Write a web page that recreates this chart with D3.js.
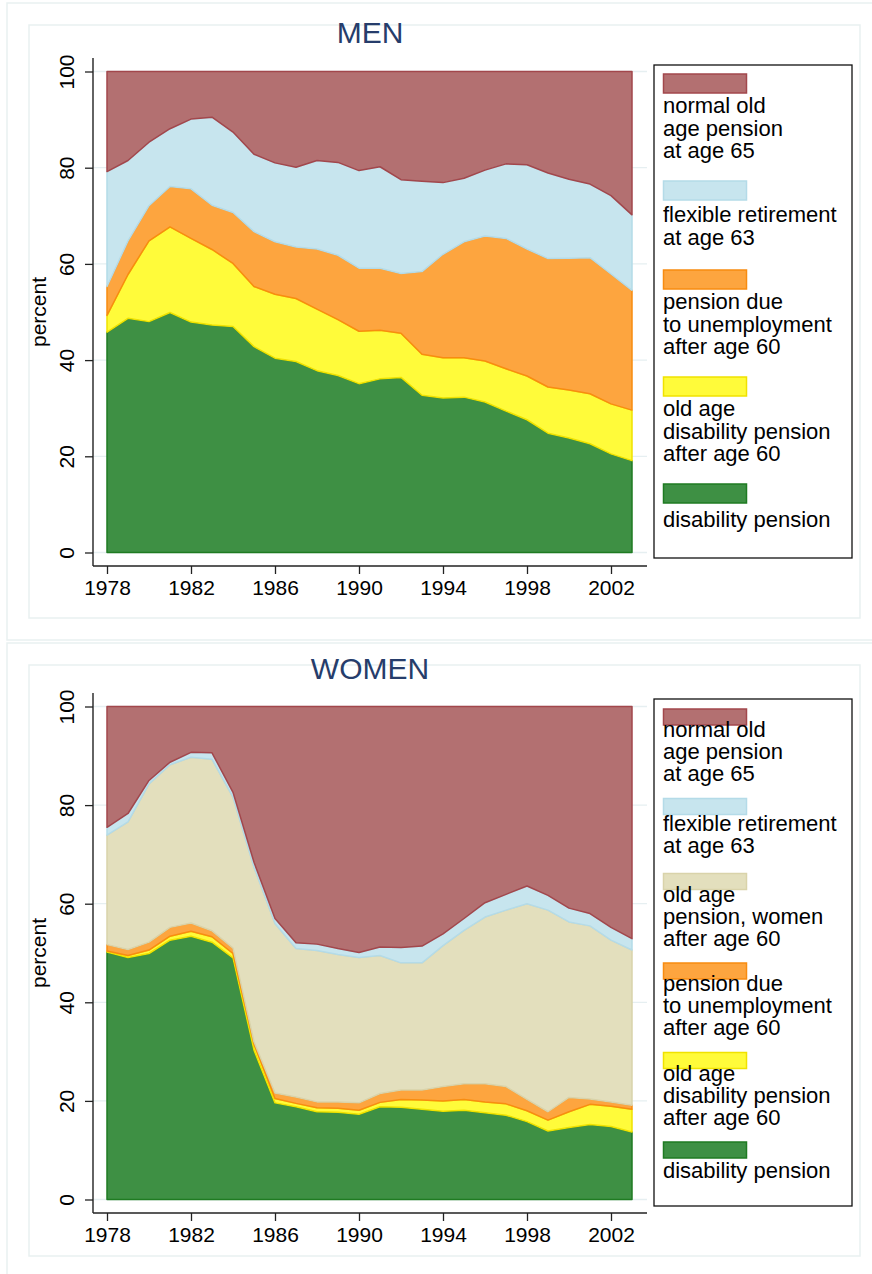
<!DOCTYPE html>
<html>
<head>
<meta charset="utf-8">
<script src="https://cdn.jsdelivr.net/npm/d3@7/dist/d3.min.js"></script>
<style>
    body { margin: 0; background: #fff; }
    svg text { font-family: "Liberation Sans", Arial, Helvetica, sans-serif; fill: #000; }
</style>
</head>
<body>
<div id="chart"></div>
<script>
// ---- DATA (shares in percent, bottom layer first) ----
const years = [1978, 1979, 1980, 1981, 1982, 1983, 1984, 1985, 1986, 1987, 1988, 1989, 1990,
    1991, 1992, 1993, 1994, 1995, 1996, 1997, 1998, 1999, 2000, 2001, 2002, 2003];
const xTicks = [1978, 1982, 1986, 1990, 1994, 1998, 2002];
const yTicks = [0, 20, 40, 60, 80, 100];

// MEN
const menDisability = [45.8, 48.7, 48.0, 49.9, 47.9, 47.3, 47.0, 42.8, 40.4, 39.7, 37.8, 36.8, 35.1,
    36.1, 36.4, 32.7, 32.1, 32.3, 31.3, 29.4, 27.6, 24.8, 23.8, 22.6, 20.5, 19.1];
const menOldAgeDisability = [3.5, 9.1, 16.8, 17.8, 17.4, 15.7, 13.1, 12.5, 13.3, 13.1, 12.8, 11.6, 10.9,
    10.1, 9.2, 8.5, 8.4, 8.2, 8.5, 8.8, 9.1, 9.6, 10.0, 10.4, 10.4, 10.5];
const menUnemployment = [6.0, 7.0, 7.3, 8.4, 10.3, 9.2, 10.6, 11.4, 10.9, 10.7, 12.5, 13.4, 13.1,
    12.9, 12.4, 17.2, 21.5, 24.1, 26.0, 27.1, 26.4, 26.7, 27.4, 28.3, 27.0, 24.9];
const menFlexible = [23.9, 16.7, 13.2, 12.0, 14.5, 18.3, 16.7, 16.1, 16.4, 16.6, 18.4, 19.3, 20.3,
    21.1, 19.5, 18.8, 14.9, 13.2, 13.7, 15.5, 17.5, 17.8, 16.4, 15.3, 16.3, 15.7];
const menNormal = [20.8, 18.5, 14.7, 11.9, 9.9, 9.5, 12.6, 17.2, 19.0, 19.9, 18.5, 18.9, 20.6,
    19.8, 22.5, 22.8, 23.1, 22.2, 20.5, 19.2, 19.4, 21.1, 22.4, 23.4, 25.8, 29.8];

// WOMEN
const womenDisability = [50.2, 49.1, 49.9, 52.6, 53.4, 52.2, 49.0, 30.3, 19.6, 18.8, 17.8, 17.7, 17.3,
    18.8, 18.7, 18.3, 17.9, 18.1, 17.6, 17.1, 15.8, 13.9, 14.6, 15.2, 14.8, 13.7];
const womenOldAgeDisability = [0.2, 0.4, 0.7, 0.8, 1.0, 1.1, 0.9, 1.2, 0.9, 0.7, 0.8, 0.8, 0.8,
    0.9, 1.6, 1.9, 2.1, 2.2, 2.2, 2.3, 2.2, 2.2, 3.2, 4.1, 4.1, 4.6];
const womenUnemployment = [1.3, 1.2, 1.6, 1.8, 1.7, 1.2, 1.1, 0.5, 1.1, 1.3, 1.2, 1.3, 1.5,
    1.8, 1.9, 2.0, 2.9, 3.2, 3.7, 3.5, 2.3, 1.7, 2.9, 1.1, 0.9, 0.8];
const womenOldAgeWomen = [22.2, 25.9, 32.1, 33.0, 33.6, 34.8, 30.6, 35.4, 34.4, 30.1, 30.7, 29.9, 29.5,
    28.0, 25.8, 25.8, 28.6, 31.1, 33.8, 35.8, 39.7, 40.9, 35.6, 35.1, 32.8, 31.5];
const womenFlexible = [1.6, 1.7, 0.7, 0.5, 1.0, 1.3, 1.0, 1.0, 1.0, 1.2, 1.3, 1.2, 1.0,
    1.7, 3.1, 3.4, 2.4, 2.4, 2.9, 3.2, 3.6, 3.0, 2.8, 2.5, 2.6, 2.3];
const womenNormal = [24.5, 21.7, 15.0, 11.3, 9.3, 9.4, 17.4, 31.6, 43.0, 47.9, 48.2, 49.1, 49.9,
    48.8, 48.9, 48.6, 46.1, 43.0, 39.8, 38.1, 36.4, 38.3, 40.9, 42.0, 44.8, 47.1];

// legend labels
const labelNormal = ["normal old", "age pension", "at age 65"];
const labelFlexible = ["flexible retirement", "at age 63"];
const labelOldAgeWomen = ["old age", "pension, women", "after age 60"];
const labelUnemployment = ["pension due", "to unemployment", "after age 60"];
const labelOldAgeDisability = ["old age", "disability pension", "after age 60"];
const labelDisability = ["disability pension"];

//^ COLOURS //
const style = {
    disability: { fill: "#3e9044", stroke: "#1f7b22" },
    oldAgeDisability: { fill: "#fffb3a", stroke: "#f0e200" },
    unemployment: { fill: "#fda53f", stroke: "#f88c10" },
    oldAgeWomen: { fill: "#e3dfbd", stroke: "#d9d3aa" },
    flexible: { fill: "#c7e5ee", stroke: "#b4dbe8" },
    normal: { fill: "#b37071", stroke: "#a2474c" }
};

const W = 872, H = 1274;
const svg = d3.select("#chart").append("svg").attr("width", W).attr("height", H);

function drawPanel(cfg) {
    const g = svg.append("g");

    //^ PANEL FRAMES //
    g.append("rect").attr("x", 7).attr("y", cfg.outerTop).attr("width", 880).attr("height", cfg.outerH)
        .attr("fill", "none").attr("stroke", "#e9f1f1").attr("stroke-width", 1.5);
    g.append("rect").attr("x", 29).attr("y", cfg.outerTop + 22).attr("width", 831).attr("height", cfg.innerH)
        .attr("fill", "none").attr("stroke", "#e9f1f1").attr("stroke-width", 1.5);

    //^ SCALES //
    const regLeft = 93, regRight = 647;
    const x = d3.scaleLinear().domain([1978, 2003]).range([107, 632]);
    const y = d3.scaleLinear().domain([0, 100]).range([cfg.regBottom - 13.5, cfg.regTop + 13.5]);

    //^ GRID //
    g.append("g").selectAll("line").data(yTicks).join("line")
        .attr("x1", regLeft).attr("x2", regRight)
        .attr("y1", d => y(d)).attr("y2", d => y(d))
        .attr("stroke", "#e6eff1").attr("stroke-width", 1.3);

    //^ STACKED AREAS //
    const keys = cfg.series.map(s => s.key);
    const rows = years.map((yr, i) => {
        const r = { year: yr };
        cfg.series.forEach(s => { r[s.key] = s.values[i]; });
        return r;
    });
    const stacked = d3.stack().keys(keys)(rows);
    const area = d3.area()
        .x(d => x(d.data.year))
        .y0(d => y(d[0]))
        .y1(d => y(d[1]));
    g.append("g").selectAll("path").data(stacked).join("path")
        .attr("d", area)
        .attr("fill", d => style[d.key].fill)
        .attr("stroke", d => style[d.key].stroke)
        .attr("stroke-width", 1.5)
        .attr("stroke-linejoin", "round");

    //^ AXES //
    const yAxis = g.append("g").attr("transform", "translate(" + regLeft + ",0)")
        .call(d3.axisLeft(y).tickValues(yTicks).tickSize(8).tickSizeOuter(0));
    yAxis.select(".domain").remove();
    yAxis.selectAll(".tick line").attr("stroke", "#222").attr("stroke-width", 1.3);
    yAxis.selectAll(".tick text")
        .attr("transform", "rotate(-90)")
        .attr("x", 0).attr("y", -19).attr("dy", 0)
        .attr("text-anchor", "middle")
        .style("font-size", "21px");
    g.append("line").attr("x1", regLeft).attr("x2", regLeft)
        .attr("y1", cfg.regTop).attr("y2", cfg.regBottom)
        .attr("stroke", "#222").attr("stroke-width", 1.4);

    const xAxis = g.append("g").attr("transform", "translate(0," + cfg.regBottom + ")")
        .call(d3.axisBottom(x).tickValues(xTicks).tickFormat(d3.format("d")).tickSize(8).tickSizeOuter(0));
    xAxis.select(".domain").remove();
    xAxis.selectAll(".tick line").attr("stroke", "#222").attr("stroke-width", 1.3);
    xAxis.selectAll(".tick text").attr("y", 29).attr("dy", 0).style("font-size", "21px");
    g.append("line").attr("x1", regLeft).attr("x2", regRight)
        .attr("y1", cfg.regBottom).attr("y2", cfg.regBottom)
        .attr("stroke", "#222").attr("stroke-width", 1.4);

    //^ AXIS TITLE + TITLE //
    g.append("text")
        .attr("transform", "translate(46," + (cfg.regTop + cfg.regBottom) / 2 + ") rotate(-90)")
        .attr("text-anchor", "middle").style("font-size", "21px").text("percent");
    g.append("text").attr("x", 370).attr("y", cfg.titleY)
        .attr("text-anchor", "middle").style("font-size", "30px").style("fill", "#263d6b")
        .text(cfg.title);

    //^ LEGEND //
    const L = cfg.legend;
    g.append("rect").attr("x", 654).attr("y", L.top).attr("width", 198).attr("height", L.height)
        .attr("fill", "#fff").attr("stroke", "#111").attr("stroke-width", 1.3);
    let sy = L.top + L.first;
    cfg.series.slice().reverse().forEach(s => {
        const n = s.label.length;
        g.append("rect").attr("x", 663.5).attr("y", sy).attr("width", 83).attr("height", L.swatch)
            .attr("fill", style[s.key].fill).attr("stroke", style[s.key].stroke).attr("stroke-width", 1.5);
        const t = g.append("text").attr("x", 663).attr("y", sy + L.base0 - L.base1 * n).style("font-size", "22px");
        s.label.forEach((line, i) => {
            t.append("tspan").attr("x", 663).attr("dy", i === 0 ? 0 : L.line).text(line);
        });
        sy += L.itemA + L.itemB * n;
    });
}

drawPanel({
    title: "MEN", titleY: 43, outerTop: 3, outerH: 637, innerH: 593,
    regTop: 58, regBottom: 566,
    legend: { top: 65, height: 493, first: 9, swatch: 19, base0: 45, base1: 2, line: 22.7, itemA: 53, itemB: 18 },
    series: [
        { key: "disability", values: menDisability, label: labelDisability },
        { key: "oldAgeDisability", values: menOldAgeDisability, label: labelOldAgeDisability },
        { key: "unemployment", values: menUnemployment, label: labelUnemployment },
        { key: "flexible", values: menFlexible, label: labelFlexible },
        { key: "normal", values: menNormal, label: labelNormal }
    ]
});

drawPanel({
    title: "WOMEN", titleY: 679, outerTop: 643, outerH: 660, innerH: 591,
    regTop: 693, regBottom: 1213,
    legend: { top: 699, height: 507, first: 10, swatch: 16, base0: 40, base1: 4, line: 22.2, itemA: 46, itemB: 14.5 },
    series: [
        { key: "disability", values: womenDisability, label: labelDisability },
        { key: "oldAgeDisability", values: womenOldAgeDisability, label: labelOldAgeDisability },
        { key: "unemployment", values: womenUnemployment, label: labelUnemployment },
        { key: "oldAgeWomen", values: womenOldAgeWomen, label: labelOldAgeWomen },
        { key: "flexible", values: womenFlexible, label: labelFlexible },
        { key: "normal", values: womenNormal, label: labelNormal }
    ]
});
</script>
</body>
</html>
